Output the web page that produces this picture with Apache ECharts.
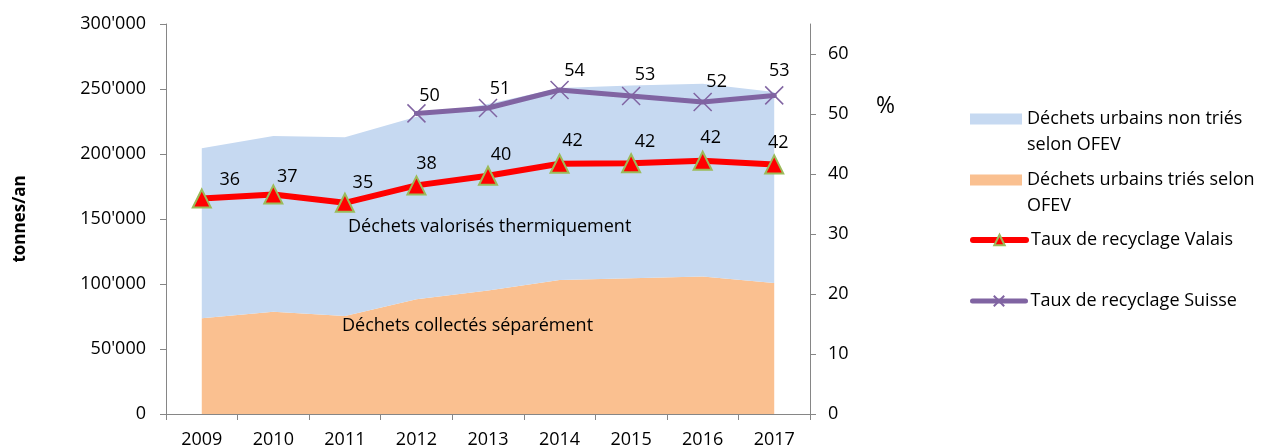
<!DOCTYPE html>
<html>
<head>
<meta charset="utf-8">
<script src="https://cdn.jsdelivr.net/npm/echarts@6/dist/echarts.min.js"></script>
<style>
html,body{margin:0;padding:0;background:#fff;}
#chart{width:1263px;height:448px;}
</style>
</head>
<body>
<div id="chart"></div>
<script>
// ---- data ----
const years = ['2009', '2010', '2011', '2012', '2013', '2014', '2015', '2016', '2017'];
const collected = [73600, 78700, 75400, 88200, 95000, 103100, 104400, 105700, 100800];   // Déchets urbains triés selon OFEV
const thermal = [130800, 135100, 137400, 140500, 143500, 147700, 148300, 148300, 146900]; // Déchets urbains non triés selon OFEV
const rateValais = [35.9, 36.6, 35.2, 38.1, 39.7, 41.7, 41.8, 42.2, 41.6];
const rateSuisse = [null, null, null, 50.1, 51.0, 54.0, 53.0, 52.0, 53.1];
const rightTicks = [0, 10, 20, 30, 40, 50, 60];

// ---- label placement (style only) ----
const vsLabelOffsets = [[28, -19], [14, -18], [18, -20], [10, -22], [13, -21], [13, -23], [14, -21], [8, -23], [4, -22]];
const chLabelOffsets = [null, null, null, [13, -18], [12, -19], [15, -19], [14, -21], [14, -20], [5, -25]];

const NAME_BLUE = 'Déchets urbains non triés selon OFEV';
const NAME_ORANGE = 'Déchets urbains triés selon OFEV';
const NAME_VS = 'Taux de recyclage Valais';
const NAME_CH = 'Taux de recyclage Suisse';

const FONT = 'Open Sans';
const FS = 18;
const axisGray = '#868686';

function fmtThousands(v) {
  return String(v).replace(/\B(?=(\d{3})+(?!\d))/g, "'");
}
function withOffsets(values, offsets) {
  return values.map((v, i) => (v == null ? null : {value: v, label: {offset: offsets[i]}}));
}

const chart = echarts.init(document.getElementById('chart'), null, {renderer: 'canvas'});

const legendBase = {
  orient: 'vertical', padding: 0, itemGap: 0, left: 970,
  itemWidth: 52, itemHeight: 11,
  textStyle: {fontFamily: FONT, fontSize: FS, color: '#000', lineHeight: 26},
  selectedMode: false
};

const option = {
  animation: false,
  textStyle: {fontFamily: FONT},
  grid: {left: 166, right: 453, top: 24, bottom: 34, containLabel: false, outerBoundsMode: 'none'},
  legend: [
    Object.assign({}, legendBase, {data: [NAME_BLUE], top: 119 - 39, icon: 'rect',
      formatter: () => '\nDéchets urbains non triés\nselon OFEV'}),
    Object.assign({}, legendBase, {data: [NAME_ORANGE], top: 180 - 39, icon: 'rect',
      formatter: () => '\nDéchets urbains triés selon\nOFEV'}),
    Object.assign({}, legendBase, {data: [NAME_VS], top: 240 - 13, itemWidth: 53, itemHeight: 13,
      lineStyle: {width: 6, cap: 'round'}}),
    Object.assign({}, legendBase, {data: [NAME_CH], top: 301 - 13, itemWidth: 53, itemHeight: 13,
      lineStyle: {width: 5, cap: 'round'}})
  ],
  xAxis: {
    type: 'category', data: years, boundaryGap: true,
    axisLine: {lineStyle: {color: axisGray, width: 1}},
    axisTick: {show: true, length: 6, lineStyle: {color: axisGray}},
    axisLabel: {color: '#000', fontSize: FS, fontFamily: FONT, margin: 17},
    splitLine: {show: false}
  },
  yAxis: [
    {
      type: 'value', min: 0, max: 300000, interval: 50000, position: 'left',
      name: 'tonnes/an', nameLocation: 'middle', nameRotate: 90, nameGap: 137,
      nameTextStyle: {fontWeight: 'bold', fontSize: 17, color: '#000', fontFamily: FONT},
      axisLine: {show: true, lineStyle: {color: axisGray, width: 1}},
      axisTick: {show: true, length: 6, lineStyle: {color: axisGray}},
      axisLabel: {color: '#000', fontSize: FS, fontFamily: FONT, margin: 20, formatter: fmtThousands},
      splitLine: {show: false}
    },
    {
      type: 'value', min: 0, max: 65, interval: 10, position: 'right',
      axisLine: {show: true, lineStyle: {color: axisGray, width: 1}},
      axisTick: {show: true, length: 6, lineStyle: {color: axisGray}, customValues: rightTicks},
      axisLabel: {color: '#000', fontSize: FS, fontFamily: FONT, margin: 18, customValues: rightTicks,
        formatter: v => (v > 60 ? '' : String(v))},
      splitLine: {show: false}
    }
  ],
  graphic: [
    {type: 'text', left: 876, top: 95, z: 100, style: {text: '%', font: '23px "Open Sans"', fill: '#000'}},
    {type: 'text', x: 348, y: 227, z: 100, style: {text: 'Déchets valorisés thermiquement', font: FS + 'px "Open Sans"', fill: '#000', verticalAlign: 'middle'}},
    {type: 'text', x: 342, y: 326, z: 100, style: {text: 'Déchets collectés séparément', font: FS + 'px "Open Sans"', fill: '#000', verticalAlign: 'middle'}}
  ],
  series: [
    {
      name: NAME_ORANGE, type: 'line', stack: 'w', data: collected, yAxisIndex: 0,
      symbol: 'none', lineStyle: {width: 0}, itemStyle: {color: '#FAC090'},
      areaStyle: {color: '#FAC090', opacity: 1}, z: 1
    },
    {
      name: NAME_BLUE, type: 'line', stack: 'w', data: thermal, yAxisIndex: 0,
      symbol: 'none', lineStyle: {width: 0}, itemStyle: {color: '#C6D9F1'},
      areaStyle: {color: '#C6D9F1', opacity: 1}, z: 1
    },
    {
      name: NAME_VS, type: 'line', data: withOffsets(rateValais, vsLabelOffsets), yAxisIndex: 1,
      symbol: 'triangle', symbolSize: 18,
      lineStyle: {color: '#FF0000', width: 6, cap: 'round', join: 'round'},
      itemStyle: {color: '#FF0000', borderColor: '#9BBB59', borderWidth: 2},
      label: {show: true, position: 'inside', color: '#000',
        fontSize: FS, fontFamily: FONT, formatter: p => Math.round(p.value)},
      z: 3
    },
    {
      name: NAME_CH, type: 'line', data: withOffsets(rateSuisse, chLabelOffsets), yAxisIndex: 1,
      symbol: 'path://M0,0L10,10M10,0L0,10', symbolSize: 18,
      lineStyle: {color: '#8064A2', width: 5, cap: 'round', join: 'round'},
      itemStyle: {color: '#8064A2', borderColor: '#8064A2', borderWidth: 1.5},
      label: {show: true, position: 'inside', color: '#000',
        fontSize: FS, fontFamily: FONT, formatter: p => Math.round(p.value)},
      z: 3
    }
  ]
};
chart.setOption(option);
</script>
</body>
</html>
